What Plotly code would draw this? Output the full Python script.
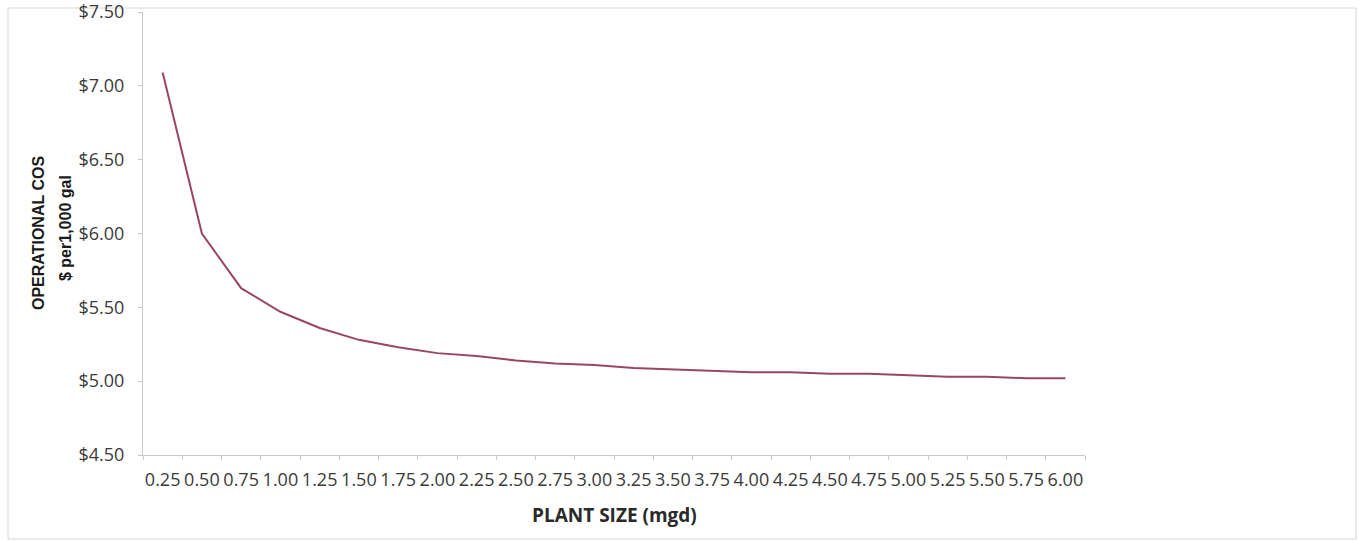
import plotly.graph_objects as go

# Plant capacity categories (mgd) and operating cost ($ per 1,000 gal)
plant_size = ["0.25", "0.50", "0.75", "1.00", "1.25", "1.50", "1.75", "2.00",
              "2.25", "2.50", "2.75", "3.00", "3.25", "3.50", "3.75", "4.00",
              "4.25", "4.50", "4.75", "5.00", "5.25", "5.50", "5.75", "6.00"]
op_cost = [7.09, 6.00, 5.63, 5.47, 5.36, 5.28, 5.23, 5.19,
           5.17, 5.14, 5.12, 5.11, 5.09, 5.08, 5.07, 5.06,
           5.06, 5.05, 5.05, 5.04, 5.03, 5.03, 5.02, 5.02]

y_ticks = [4.5, 5.0, 5.5, 6.0, 6.5, 7.0, 7.5]

W, H = 1359, 542
L, R, T, B = 143, 274, 12, 87
pw, ph = W - L - R, H - T - B


def px_x(x):
    return (x - L) / pw


def px_y(y):
    return (H - B - y) / ph


fig = go.Figure()
fig.add_trace(go.Scatter(
    x=plant_size, y=op_cost, mode="lines",
    line=dict(color="#9a4565", width=2),
    showlegend=False, hoverinfo="x+y",
))

fig.update_layout(
    width=W, height=H,
    margin=dict(l=L, r=R, t=T, b=B, autoexpand=False),
    paper_bgcolor="white", plot_bgcolor="white",
    xaxis=dict(
        type="category", range=[-0.5, len(plant_size) - 0.5], automargin=False,
        tickson="boundaries", ticks="outside", ticklen=4,
        tickcolor="#c8c8c8", showline=True, linecolor="#c8c8c8", linewidth=1,
        showgrid=False, zeroline=False, tickangle=0, ticklabelstandoff=8,
        tickfont=dict(family="Open Sans, Lato, sans-serif", size=18, color="#3a3a3a"),
    ),
    yaxis=dict(
        range=[4.5, 7.5005], tickvals=y_ticks, tickformat="$.2f", automargin=False,
        ticks="outside", ticklen=4, tickcolor="#c8c8c8",
        showline=True, linecolor="#c8c8c8", linewidth=1,
        showgrid=False, zeroline=False, ticklabelstandoff=10,
        ticklabeloverflow="allow",
        tickfont=dict(family="Open Sans, Lato, sans-serif", size=18, color="#3a3a3a"),
    ),
    shapes=[dict(
        type="rect", xref="paper", yref="paper",
        x0=px_x(8), x1=px_x(1356), y0=px_y(539), y1=px_y(8),
        line=dict(color="#d6d6d6", width=1), fillcolor="rgba(0,0,0,0)", layer="below",
    )],
    annotations=[
        dict(text="<b>PLANT SIZE (mgd)</b>", xref="paper", yref="paper",
             x=px_x(614), y=px_y(515), xanchor="center", yanchor="middle",
             showarrow=False,
             font=dict(family="Open Sans, Lato, sans-serif", size=19, color="#2a2a2a")),
        dict(text="<b>OPERATIONAL COS</b>", xref="paper", yref="paper",
             x=px_x(38), y=px_y(233), xanchor="center", yanchor="middle",
             showarrow=False, textangle=-90,
             font=dict(family="Liberation Sans Narrow, Liberation Sans, sans-serif",
                       size=16, color="#1a1a1a")),
        dict(text="<b>$ per1,000 gal</b>", xref="paper", yref="paper",
             x=px_x(66), y=px_y(228), xanchor="center", yanchor="middle",
             showarrow=False, textangle=-90,
             font=dict(family="Liberation Sans Narrow, Liberation Sans, sans-serif",
                       size=16, color="#1a1a1a")),
    ],
)

fig.write_html("out.html")
